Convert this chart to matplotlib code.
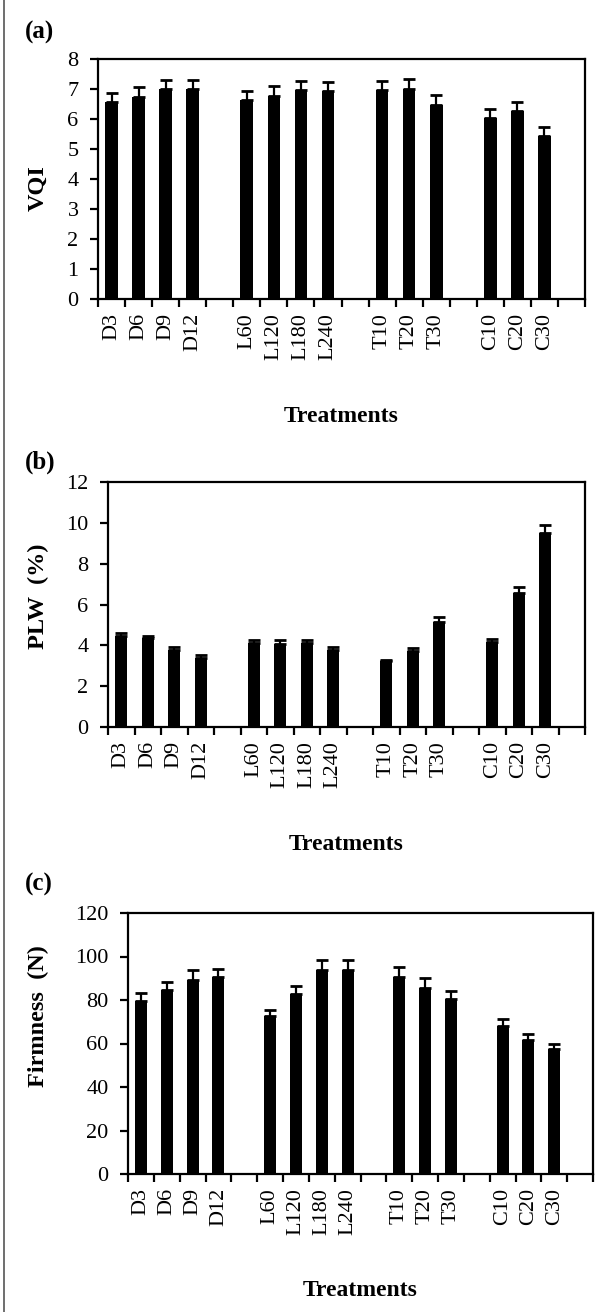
import matplotlib
matplotlib.use("Agg")
import matplotlib.pyplot as plt
from matplotlib.lines import Line2D
import numpy as np

plt.rcParams['font.family'] = ['Liberation Serif', 'DejaVu Serif']

# ---- data ----
groups = [["D3", "D6", "D9", "D12"],
          ["L60", "L120", "L180", "L240"],
          ["T10", "T20", "T30"],
          ["C10", "C20", "C30"]]
treatments = [t for g in groups for t in g]

vqi = [6.57, 6.75, 7.01, 7.01, 6.62, 6.78, 6.96, 6.92, 6.96, 7.01, 6.48, 6.05, 6.27, 5.44]
vqi_err = [0.30, 0.31, 0.30, 0.30, 0.33, 0.32, 0.31, 0.31, 0.31, 0.31, 0.31, 0.28, 0.29, 0.29]

plw = [4.47, 4.35, 3.78, 3.40, 4.11, 4.06, 4.11, 3.78, 3.24, 3.73, 5.14, 4.17, 6.56, 9.48]
plw_err = [0.15, 0.13, 0.13, 0.14, 0.13, 0.18, 0.13, 0.15, 0.05, 0.13, 0.23, 0.13, 0.30, 0.41]

firm = [79.5, 84.4, 89.3, 90.4, 72.5, 82.6, 93.8, 93.8, 90.7, 85.5, 80.3, 68.2, 61.5, 57.3]
firm_err = [3.6, 3.9, 4.5, 3.9, 3.1, 3.7, 4.6, 4.6, 4.5, 4.6, 3.8, 3.2, 2.7, 2.6]

# slot positions (one empty slot between groups)
pos = []
p = 0
for g in groups:
    for _ in g:
        pos.append(p)
        p += 1
    p += 1
nslots = p - 1

W, H = 609, 1312
fig = plt.figure(figsize=(W / 100, H / 100), dpi=100)

def fx(px):
    return px / W

def fy(py):
    return 1 - py / H

panels = [
    dict(vals=vqi, err=vqi_err, ylab="VQI", letter="(a)", box=(98, 585, 59, 299),
         yt=np.arange(0, 9, 1), ylim=(0, 8), lab_y=188, letter_y=32, treat_y=416),
    dict(vals=plw, err=plw_err, ylab="PLW  (%)", letter="(b)", box=(108, 585, 482, 727),
         yt=np.arange(0, 13, 2), ylim=(0, 12), lab_y=596, letter_y=462, treat_y=844),
    dict(vals=firm, err=firm_err, ylab="Firmness  (N)", letter="(c)", box=(128, 593, 913, 1174),
         yt=np.arange(0, 121, 20), ylim=(0, 120), lab_y=1016, letter_y=884, treat_y=1291),
]

for pn in panels:
    l, r, t, b = pn["box"]
    ax = fig.add_axes([fx(l), fy(b), (r - l) / W, (b - t) / H])
    ax.bar(pos, pn["vals"], width=0.47, color="black", zorder=2)
    ax.errorbar(pos, pn["vals"], yerr=[np.zeros(len(pn["vals"])), pn["err"]],
                fmt="none", ecolor="black", elinewidth=1.6, capsize=4, capthick=2.0, zorder=3)
    ax.set_xlim(-0.5, nslots + 0.5)
    ax.set_ylim(*pn["ylim"])
    ax.set_yticks(pn["yt"])
    ax.set_yticklabels([str(v) for v in pn["yt"]], fontsize=16)
    ax.set_xticks(pos)
    ax.set_xticklabels(treatments, rotation=90, fontsize=16)
    ax.set_xticks(np.arange(-0.5, nslots + 1, 1), minor=True)
    ax.tick_params(axis="x", which="major", length=0, pad=10)
    ax.tick_params(axis="x", which="minor", length=6, width=1.6, direction="out")
    ax.tick_params(axis="y", which="major", length=6, width=1.6, direction="out", pad=8)
    for s in ax.spines.values():
        s.set_linewidth(1.6)
        s.set_color("black")
    fig.text(fx(38), fy(pn["lab_y"]), pn["ylab"], rotation=90, ha="center", va="center",
             fontsize=17.5, fontweight="bold")
    fig.text(fx(25), fy(pn["letter_y"]), pn["letter"], ha="left", va="center",
             fontsize=18, fontweight="bold")
    fig.text(fx((l + r) / 2), fy(pn["treat_y"]), "Treatments", ha="center", va="center",
             fontsize=17, fontweight="bold")

fig.add_artist(Line2D([fx(3.5), fx(3.5)], [0, 1], color="#555555", lw=1.2))

fig.savefig("out.png", dpi=100)
